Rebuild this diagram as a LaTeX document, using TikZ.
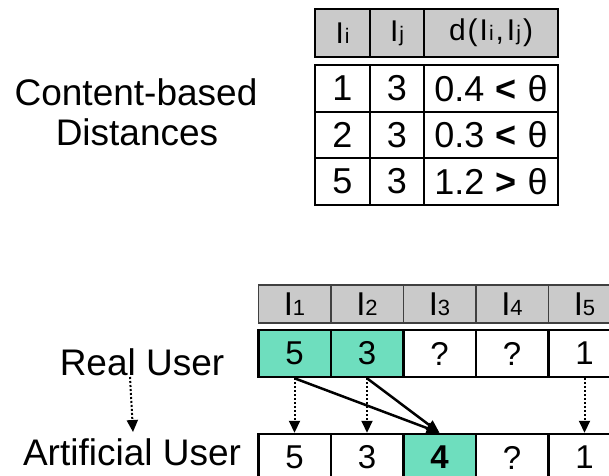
\documentclass[tikz,border=0pt]{standalone}
\usepackage{fontspec}
\setmainfont{Liberation Sans}
\usetikzlibrary{arrows.meta}
\definecolor{hdrgray}{RGB}{202,202,202}
\definecolor{mint}{RGB}{110,222,190}
% small index letters set on the baseline of the item letter
\newcommand\subidx[1]{{\fontsize{21}{21}\selectfont #1}}
\newcommand\subnum[1]{{\fontsize{22}{22}\selectfont #1}}
% comparison of a distance with the threshold
\newcommand\cmpth[2]{#1\hspace{11pt}\textbf{#2}\hspace{11pt}θ}

\begin{document}
\begin{tikzpicture}[x=1pt,y=-1pt,
  label/.style={inner sep=0pt, anchor=base, font=\fontsize{37}{40}\selectfont},
  thead/.style={draw=black, line width=2pt, fill=hdrgray, inner sep=0pt,
                font=\fontsize{30}{30}\selectfont},
  tcell/.style={draw=black, line width=2pt, fill=white, inner sep=0pt,
                font=\fontsize{36}{36}\selectfont},
  bhead/.style={draw=black!75, line width=1.5pt, fill=hdrgray, inner sep=0pt,
                minimum width=72.5pt, minimum height=38pt,
                font=\fontsize{33}{33}\selectfont},
  bcell/.style={draw=black, line width=2.5pt, fill=white, inner sep=0pt,
                minimum width=72.5pt, minimum height=47pt,
                font=\fontsize{33}{33}\selectfont},
  known/.style={fill=mint},
  copyarrow/.style={line width=2pt, dash pattern=on 2pt off 2pt,
                    -{Triangle[length=12pt,width=11pt]}},
  predarrow/.style={line width=2.5pt, -{Triangle[length=13pt,width=11pt]}}
]
\useasboundingbox (0,0) rectangle (609,475);
\clip (0,0) rectangle (609,475);

% ---- labels on the left
\node[label] (cb)   at (136,105) {Content-based};
\node[label] (dist) at (137,145) {Distances};
\node[label] (real) at (142,375) {Real User};
\node[label] (art)  at (132,465) {Artificial User};

% ---- distance table
\node[thead, minimum width=55pt,  minimum height=47.5pt] (hi) at (342.5,33) {I\kern1pt\subidx{i}};
\node[thead, minimum width=54pt,  minimum height=47.5pt] (hj) at (397,33)   {I\kern1pt\subidx{j}};
\node[thead, minimum width=134pt, minimum height=47.5pt] (hd) at (491,33)
  {d\kern2pt(\kern2pt I\kern1pt\subidx{i}\kern2pt,\kern3pt I\kern1pt\subidx{j}\kern2pt)};

\foreach \r/\y/\h/\a/\b/\d in {1/88.5/47/1/3/{\cmpth{0.4}{<}},
                               2/135/46/2/3/{\cmpth{0.3}{<}},
                               3/181.5/47/5/3/{\cmpth{1.2}{>}}}{
  \node[tcell, minimum width=55pt,  minimum height=\h pt] (d\r a) at (342.5,\y) {\a};
  \node[tcell, minimum width=54pt,  minimum height=\h pt] (d\r b) at (397,\y)   {\b};
  \node[tcell, minimum width=134pt, minimum height=\h pt] (d\r c) at (491,\y)   {\d};
}

% ---- rating table
\foreach \i/\x in {1/294.5,2/367,3/439.5,4/512,5/584.5}{
  \node[bhead] (h\i) at (\x,304) {I\subnum{\i}};
}
\node[bcell, known] (r1) at (294.5,353.5) {5};
\node[bcell, known] (r2) at (367,353.5)   {3};
\node[bcell]        (r3) at (439.5,353.5) {?};
\node[bcell]        (r4) at (512,353.5)   {?};
\node[bcell]        (r5) at (584.5,353.5) {1};

\node[bcell]        (a1) at (294.5,457.5) {5};
\node[bcell]        (a2) at (367,457.5)   {3};
\node[bcell, known] (a3) at (439.5,457.5) {\textbf{4}};
\node[bcell]        (a4) at (512,457.5)   {?};
\node[bcell]        (a5) at (584.5,457.5) {1};

% ---- copied ratings
\draw[copyarrow] (r1.south) -- (a1.north);
\draw[copyarrow] (r2.south) -- (a2.north);
\draw[copyarrow] (r5.south) -- (a5.north);

% ---- predicted rating from similar items
\draw[predarrow] (r1.south) -- (a3.north);
\draw[predarrow] (r2.south) -- (a3.north);

% ---- real user becomes artificial user
\coordinate (ru) at (130,377);
\coordinate (au) at (133,432);
\draw[copyarrow] (ru) -- (au);
\end{tikzpicture}
\end{document}
